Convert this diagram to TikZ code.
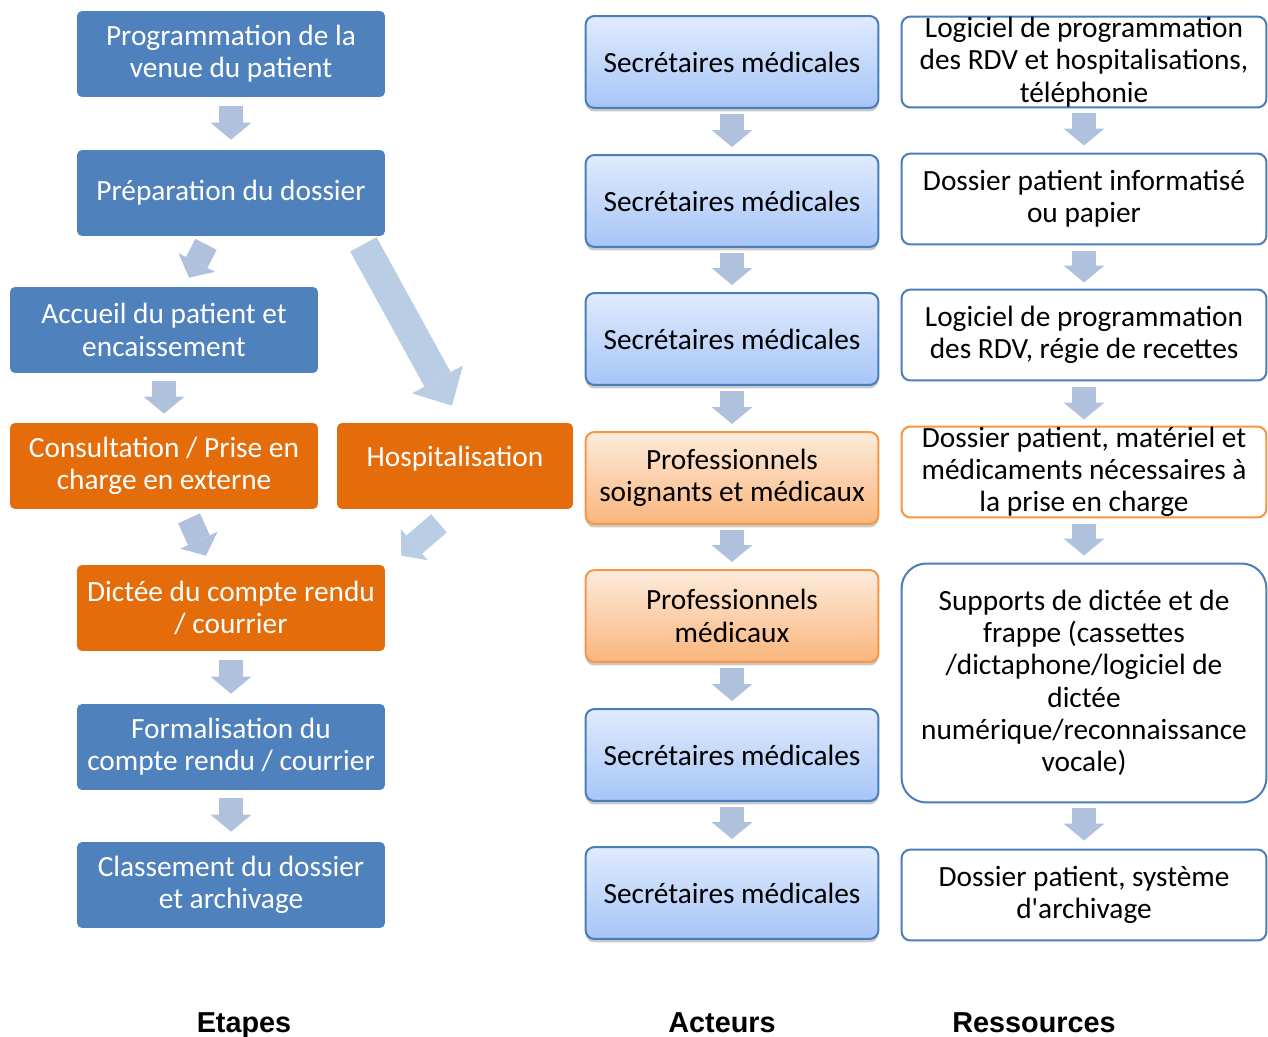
\documentclass[tikz,border=0pt]{standalone}
\usepackage{fontspec}
\setmainfont{Carlito}
\newfontfamily\headfont{Liberation Sans}
\usepackage{tikz}
\usetikzlibrary{
  arrows.meta,
  calc,
  shadows,
}
\definecolor{stepblue}{HTML}{4F81BD}
\definecolor{steporange}{HTML}{E46C0A}
\definecolor{edgeblue}{HTML}{4A7EBB}
\definecolor{edgeorange}{HTML}{F79646}
\definecolor{bluetop}{HTML}{E0EBFD}
\definecolor{bluebot}{HTML}{A6C5F7}
\definecolor{orangetop}{HTML}{FDEBDC}
\definecolor{orangebot}{HTML}{FAB57C}
\definecolor{flow}{HTML}{B0C1DE}
\definecolor{flowpale}{HTML}{B9CDE5}
\tikzset{
  every node/.append style={font=\fontsize{16.7}{18.4}\selectfont, align=center, inner sep=0pt},
  etape/.style={
    fill=#1,
    text=white,
    rounded corners=0.1cm,
    minimum width=6.16cm,
    minimum height=1.72cm,
  },
  acteur/.style={
    draw=#1,
    line width=0.04cm,
    rounded corners=0.18cm,
    minimum width=5.86cm,
    minimum height=1.84cm,
    drop shadow={shadow xshift=0cm, shadow yshift=-0.07cm, opacity=0.3, fill=black!70},
  },
  bleu/.style={acteur=edgeblue, top color=bluetop, bottom color=bluebot},
  orange/.style={acteur=edgeorange, top color=orangetop, bottom color=orangebot},
  ressource/.style={
    draw=#1,
    fill=white,
    line width=0.04cm,
    rounded corners=0.18cm,
    minimum width=7.3cm,
    minimum height=1.82cm,
  },
  ressource/.default=edgeblue,
  fleche/.style={
    draw=#1,
    line width=0.48cm,
    -{Triangle[width=0.82cm, length=0.34cm, line width=0pt]},
  },
  fleche/.default=flow,
  colonne/.style={anchor=base, font=\headfont\bfseries\fontsize{16.4}{18}\selectfont},
}

\begin{document}
\begin{tikzpicture}[x=0.02cm, y=-0.02cm]
  \useasboundingbox (0,0) rectangle (1268,1037);

  % Etapes
  \node[etape=stepblue] (prog) at (231,54) {Programmation de la\\venue du patient};
  \node[etape=stepblue] (prep) at (231,193) {Préparation du dossier};
  \node[etape=stepblue] (accueil) at (164,330) {Accueil du patient et\\encaissement};
  \node[etape=steporange] (consult) at (164,466) {Consultation / Prise en\\charge en externe};
  \node[etape=steporange, minimum width=4.72cm, text depth=0.38cm] (hosp) at (455,466) {Hospitalisation};
  \node[etape=steporange] (dictee) at (231,608) {Dictée du compte rendu\\/ courrier};
  \node[etape=stepblue] (formal) at (231,747) {Formalisation du\\compte rendu / courrier};
  \node[etape=stepblue] (classement) at (231,885) {Classement du dossier\\et archivage};

  \draw[fleche, shorten <=0.18cm, shorten >=0.2cm] (prog) -- (prep);
  \draw[fleche] ([shift={(-25,8)}]prep.south) -- ([shift={(25,-9)}]accueil.north);
  \draw[fleche=flowpale, line width=0.6cm, -{Triangle[width=1.16cm, length=0.6cm, line width=0pt]}]
    ([shift={(-22,8)}]prep.south east) -- ([shift={(-3,-17)}]hosp.north);
  \draw[fleche, shorten <=0.16cm, shorten >=0.18cm] (accueil) -- (consult);
  \draw[fleche] ([shift={(25,9)}]consult.south) -- ([shift={(-25,-9)}]dictee.north);
  \draw[fleche=flowpale] ([shift={(-16,14)}]hosp.south) -- ([shift={(16,-9)}]dictee.north east);
  \draw[fleche, shorten <=0.18cm, shorten >=0.2cm] (dictee) -- (formal);
  \draw[fleche, shorten <=0.16cm, shorten >=0.2cm] (formal) -- (classement);

  % Acteurs
  \node[bleu] (act1) at (732,62) {Secrétaires médicales};
  \node[bleu] (act2) at (732,201) {Secrétaires médicales};
  \node[bleu] (act3) at (732,339) {Secrétaires médicales};
  \node[orange] (act4) at (732,478) {Professionnels\\soignants et médicaux};
  \node[orange] (act5) at (732,616) {Professionnels\\médicaux};
  \node[bleu] (act6) at (732,755) {Secrétaires médicales};
  \node[bleu] (act7) at (732,893) {Secrétaires médicales};

  \draw[fleche, shorten <=0.1cm, shorten >=0.14cm] (act1) -- (act2);
  \draw[fleche, shorten <=0.1cm, shorten >=0.14cm] (act2) -- (act3);
  \draw[fleche, shorten <=0.1cm, shorten >=0.14cm] (act3) -- (act4);
  \draw[fleche, shorten <=0.1cm, shorten >=0.14cm] (act4) -- (act5);
  \draw[fleche, shorten <=0.1cm, shorten >=0.14cm] (act5) -- (act6);
  \draw[fleche, shorten <=0.1cm, shorten >=0.14cm] (act6) -- (act7);

  % Ressources
  \node[ressource] (res1) at (1084,62) {Logiciel de programmation\\des RDV et hospitalisations,\\téléphonie};
  \node[ressource] (res2) at (1084,199) {Dossier patient informatisé\\ou papier};
  \node[ressource] (res3) at (1084,335) {Logiciel de programmation\\des RDV, régie de recettes};
  \node[ressource=edgeorange] (res4) at (1084,472) {Dossier patient, matériel et\\médicaments nécessaires à\\la prise en charge};
  \node[ressource, minimum height=4.78cm, rounded corners=0.5cm] (res5) at (1084,683) {Supports de dictée et de\\frappe (cassettes\\/dictaphone/logiciel de\\dictée\\numérique/reconnaissance\\vocale)};
  \node[ressource] (res6) at (1084,895) {Dossier patient, système\\d\textquotesingle archivage};

  \draw[fleche, shorten <=0.1cm, shorten >=0.14cm] (res1) -- (res2);
  \draw[fleche, shorten <=0.12cm, shorten >=0.12cm] (res2) -- (res3);
  \draw[fleche, shorten <=0.12cm, shorten >=0.12cm] (res3) -- (res4);
  \draw[fleche, shorten <=0.12cm, shorten >=0.14cm] (res4) -- (res5);
  \draw[fleche, shorten <=0.1cm, shorten >=0.16cm] (res5) -- (res6);

  % titres de colonnes
  \node[colonne] (tetapes) at (244,1032) {Etapes};
  \node[colonne] (tacteurs) at (722,1032) {Acteurs};
  \node[colonne] (tressources) at (1034,1032) {Ressources};
\end{tikzpicture}
\end{document}
